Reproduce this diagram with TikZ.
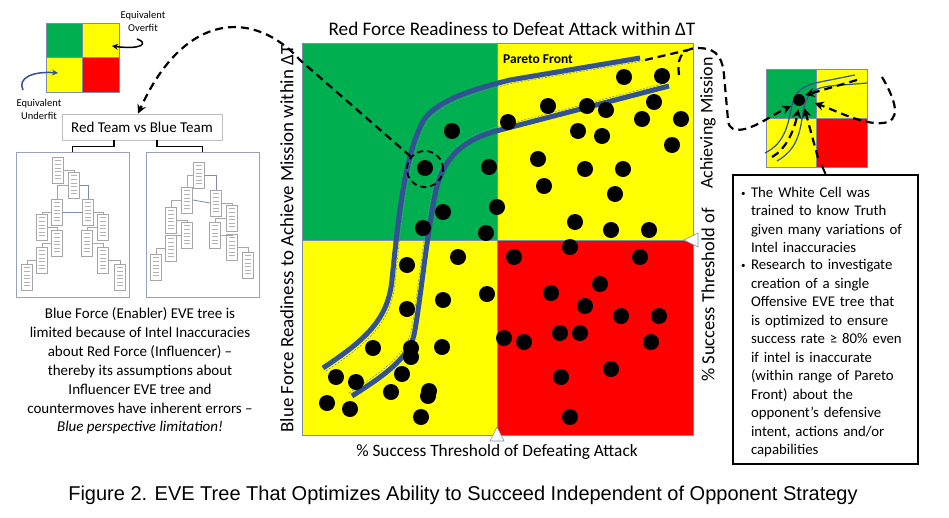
\documentclass[tikz,border=0pt]{standalone}
\usepackage{fontspec}
\setmainfont{Carlito}
\newfontfamily\capfont{Liberation Sans}
\usetikzlibrary{arrows.meta}

\definecolor{quadgreen}{RGB}{0,176,80}
\definecolor{quadyellow}{RGB}{255,255,0}
\definecolor{quadred}{RGB}{255,0,0}
\definecolor{pareto}{RGB}{50,82,148}
\definecolor{frame}{RGB}{125,140,170}

\newcommand{\infoitem}[1]{\par\noindent\makebox[10pt][l]{\raisebox{1pt}{\fontsize{9}{9}\selectfont\textbullet}}\parbox[t]{160pt}{\raggedright #1\strut}\par}

\tikzset{
    quad/.style={draw=frame, line width=0.8pt, inner sep=0pt},
    bigdash/.style={line width=2.2pt, dash pattern=on 8pt off 5pt},
    dashtip/.style={-{Stealth[length=9pt,width=9pt]}},
    frontline/.style={pareto, line width=5pt},
    frontguide/.style={pareto!70, line width=0.6pt, dash pattern=on 2pt off 1.5pt},
    evebox/.style={draw=gray!70, fill=white, line width=0.5pt, minimum width=11pt,
        minimum height=26pt, inner sep=0pt, path picture={
        \foreach \k in {1,...,6}
            \draw[gray!60, line width=0.4pt] ([xshift=2pt,yshift={-\k*3.6pt}]path picture bounding box.north west) -- ++(6pt,0);}},
    evelink/.style={gray!70, line width=0.6pt},
    panel/.style={draw=frame!80, line width=0.8pt, minimum width=113pt, minimum height=145pt, inner sep=0pt},
}

\begin{document}
\begin{tikzpicture}[x=1pt, y=-1pt]
        \useasboundingbox (0,0) rectangle (949,517);

        % legend square
        \node[quad, fill=quadgreen, minimum width=36.5pt, minimum height=34.5pt] (lgTL) at (64.5,40.5) {};
        \node[quad, fill=quadyellow, minimum width=36.5pt, minimum height=34.5pt] (lgTR) at (101,40.5) {};
        \node[quad, fill=quadyellow, minimum width=36.5pt, minimum height=34.5pt] (lgBL) at (64.5,75) {};
        \node[quad, fill=quadred, minimum width=36.5pt, minimum height=34.5pt] (lgBR) at (101,75) {};
        \node[align=center, font=\fontsize{10.5}{13}\selectfont] (overfit) at (143,21) {Equivalent\\Overfit};
        \node[align=center, font=\fontsize{10.5}{13}\selectfont] (underfit) at (39,109) {Equivalent\\Underfit};
        \draw[line width=1.5pt, -{Stealth[length=6pt,width=6pt]}] (137,39) .. controls (149,43) and (142,50) .. (112,46);
        \draw[pareto, line width=1.5pt, -{Stealth[length=6pt,width=6pt]}] (23,90) .. controls (17,78) and (33,71) .. (58,73);

        % red team vs blue team
        \node[draw=gray!50, line width=0.8pt, minimum width=160pt, minimum height=26pt,
            font=\fontsize{15}{17}\selectfont] (teams) at (142,127) {Red Team vs Blue Team};
        \node[panel] (lpanel) at (72.5,224.5) {};
        \node[panel] (rpanel) at (202.5,224.5) {};
        \draw[line width=1.2pt] ([xshift=-28pt]teams.south) -- ++(0,6) -| (lpanel.north);
        \draw[line width=1.2pt] ([xshift=15pt]teams.south) -- ++(0,6) -| (rpanel.north);

        \foreach \n/\x/\y in {1/58/170, 2/74/185, 3/57/212, 4/88/212, 5/42/227, 6/57/243,
            7/103/227, 8/87/243, 9/42/260, 10/103/260, 11/27/277, 12/120/277}
            \node[evebox] (lt\n) at (\x,\y) {};
        \draw[evelink] (lt1.east) -| (lt2.north);
        \draw[evelink] (lt2.west) -| (lt3.north);
        \draw[frame, line width=0.8pt] (lt2.east) -| (lt4.north);
        \draw[frame, line width=0.8pt] (lt3.east) -- (lt4.west);
        \draw[evelink] (lt3.west) -| (lt5.north);
        \draw[evelink] (lt5.east) -| (lt6.north);
        \draw[evelink] (lt6.west) -| (lt9.north);
        \draw[evelink] (lt9.west) -| (lt11.north);
        \draw[evelink] (lt4.east) -| (lt7.north);
        \draw[evelink] (lt7.west) -| (lt8.north);
        \draw[evelink] (lt8.east) -| (lt10.north);
        \draw[evelink] (lt10.east) -| (lt12.north);

        \foreach \n/\x/\y in {1/199/175, 2/187/200, 3/216/203, 4/171/220, 5/187/235, 6/232/218,
            7/215/235, 8/171/248, 9/232/247, 10/156/267, 11/248/265}
            \node[evebox] (rt\n) at (\x,\y) {};
        \draw[frame, line width=0.8pt] (rt1.east) -| (rt3.north);
        \draw[evelink] (rt1.west) -| (rt2.north);
        \draw[frame, line width=0.8pt] (rt2.east) -- (rt3.west);
        \draw[evelink] (rt2.west) -| (rt4.north);
        \draw[evelink] (rt4.east) -| (rt5.north);
        \draw[evelink] (rt5.west) -| (rt8.north);
        \draw[evelink] (rt8.west) -| (rt10.north);
        \draw[evelink] (rt3.east) -| (rt6.north);
        \draw[evelink] (rt6.west) -| (rt7.north);
        \draw[evelink] (rt7.east) -| (rt9.north);
        \draw[evelink] (rt9.east) -| (rt11.north);

        \node[align=center, font=\fontsize{15}{18.9}\selectfont] (bluenote) at (140,371)
            {Blue Force (Enabler) EVE tree is\\limited because of Intel Inaccuracies\\about Red Force (Influencer) --\\thereby its assumptions about\\Influencer EVE tree and\\countermoves have inherent errors --\\\textit{Blue perspective limitation!}};

        % main chart
        \node[quad, fill=quadgreen, minimum width=195pt, minimum height=197pt] (qTL) at (399.5,141.5) {};
        \node[quad, fill=quadyellow, minimum width=196pt, minimum height=197pt] (qTR) at (595,141.5) {};
        \node[quad, fill=quadyellow, minimum width=195pt, minimum height=195pt] (qBL) at (399.5,337.5) {};
        \node[quad, fill=quadred, minimum width=196pt, minimum height=195pt] (qBR) at (595,337.5) {};
        \draw[frame, fill=white, line width=0.6pt] (490,441) -- (504,441) -- (497,427) -- cycle;
        \draw[frame, fill=white, line width=0.6pt] (698,233) -- (698,247) -- (684,240) -- cycle;

        \node[font=\fontsize{19.2}{22}\selectfont] (title) at (512,29) {Red Force Readiness to Defeat Attack within ΔT};
        \node[font=\fontsize{17.3}{20}\selectfont] (xlabel) at (497,452) {\% Success Threshold of Defeating Attack};
        \node[font=\fontsize{18.9}{22}\selectfont, rotate=90] (ylabel) at (287,239) {Blue Force Readiness to Achieve Mission within ΔT};
        \node[font=\fontsize{18.5}{21}\selectfont, rotate=90] (rlabel) at (708,295) {\% Success Threshold of};
        \node[font=\fontsize{18}{21}\selectfont, rotate=90] (rlabel2) at (708,123) {Achieving Mission};
        \node[font=\bfseries\fontsize{13.5}{16}\selectfont] (front) at (538,59) {Pareto Front};

        \draw[frontline] (323,368) .. controls (365,340) and (388,320) .. (392,280)
            .. controls (398,220) and (405,150) .. (425,118) .. controls (440,100) and (470,90) .. (510,80) -- (640,58);
        \draw[frontguide, shift={(3,3)}] (323,368) .. controls (365,340) and (388,320) .. (392,280)
            .. controls (398,220) and (405,150) .. (425,118) .. controls (440,100) and (470,90) .. (510,80) -- (640,58);
        \draw[frontline] (352,396) .. controls (380,378) and (408,360) .. (414,335)
            .. controls (420,305) and (426,240) .. (435,195) .. controls (442,160) and (460,140) .. (500,130) -- (669,86);
        \draw[frontguide, shift={(-3,-3)}] (352,396) .. controls (380,378) and (408,360) .. (414,335)
            .. controls (420,305) and (426,240) .. (435,195) .. controls (442,160) and (460,140) .. (500,130) -- (669,86);

        \foreach \x/\y in {624/77, 662/76, 548/106, 587/106, 606/110, 654/102, 642/119, 681/119,
            508/122, 452/131, 578/131, 602/136, 672/145, 538/159, 425/168, 489/167, 585/169, 623/169,
            544/186, 615/194, 497/207, 443/212, 423/228, 575/222, 611/230, 649/230, 486/233, 570/247,
            458/257, 407/265, 514/257, 640/257, 487/294, 443/300, 407/309, 551/293, 600/284, 585/306,
            621/316, 659/316, 504/338, 524/342, 560/333, 580/333, 651/342, 373/348, 411/348, 411/357,
            442/347, 402/374, 336/377, 356/382, 391/392, 429/391, 428/396, 327/403, 350/409, 421/417,
            611/369, 561/377, 570/417}
            \fill (\x,\y) circle [radius=8pt];

        \node[draw, circle, line width=1.8pt, dash pattern=on 6pt off 4pt, minimum size=36pt] (pick) at (425,169) {};
        \draw[bigdash, dashtip] (pick) -- (300,60) .. controls (255,10) and (185,10) .. ([xshift=-4pt]teams.north);

        % small chart on the right
        \node[quad, fill=quadgreen, minimum width=50pt, minimum height=49pt] (mTL) at (791,93.5) {};
        \node[quad, fill=quadyellow, minimum width=51pt, minimum height=49pt] (mTR) at (841.5,93.5) {};
        \node[quad, fill=quadyellow, minimum width=50pt, minimum height=49pt] (mBL) at (791,142.5) {};
        \node[quad, fill=quadred, minimum width=51pt, minimum height=49pt] (mBR) at (841.5,142.5) {};
        \draw[pareto, line width=1.2pt] (765,153) .. controls (785,143) and (788,125) .. (792,105)
            .. controls (795,90) and (805,85) .. (820,82) -- (855,75);
        \draw[pareto, line width=1.2pt] (777,161) .. controls (796,150) and (800,135) .. (803,112)
            .. controls (806,92) and (815,88) .. (830,86) -- (867,83);
        \node[circle, fill, minimum size=12pt, inner sep=0pt] (mdot) at (799,100) {};

        \draw[bigdash, dashtip, shorten >=3pt] (772,157) .. controls (785,150) and (794,132) .. (mdot.south);
        \draw[bigdash, dashtip, shorten >=2pt] (857,80) -- (mdot.north east);
        \draw[bigdash, dashtip, shorten >=4pt] (818,158) -- (mdot.south east);
        \draw[bigdash, dashtip, shorten >=10pt] (882,77) .. controls (892,94) and (902,116) .. (888,122)
            .. controls (868,128) and (835,110) .. (mdot.east);

        \draw[bigdash] (645,60) -- (688,50);
        \draw[bigdash, dashtip, shorten >=4pt] (679,75) .. controls (677,60) and (680,49) .. (697,48)
            .. controls (712,48) and (722,52) .. (724,75) -- (728,120) .. controls (729,130) and (735,131) .. (745,129)
            .. controls (760,125) and (772,115) .. (mdot.south west);

        \node[draw, line width=2pt, text width=169pt, inner xsep=8pt, inner ysep=4pt, minimum height=285pt,
            align=left, font=\fontsize{14.8}{18.5}\selectfont] (info) at (825.5,319.5)
            {\infoitem{The White Cell was\\trained to know Truth\\given many variations of\\Intel inaccuracies}%
             \infoitem{Research to investigate\\creation of a single\\Offensive EVE tree that\\is optimized to ensure\\success rate ≥ 80\% even\\if intel is inaccurate\\(within range of Pareto\\Front) about the\\opponent’s defensive\\intent, actions and/or\\capabilities}};
        \draw[line width=2pt] (info.north) -- ++(-4,-9);

        \node[font=\capfont\fontsize{20}{23}\selectfont] (caption) at (463,495)
            {Figure 2. EVE Tree That Optimizes Ability to Succeed Independent of Opponent Strategy};
    \end{tikzpicture}
\end{document}
